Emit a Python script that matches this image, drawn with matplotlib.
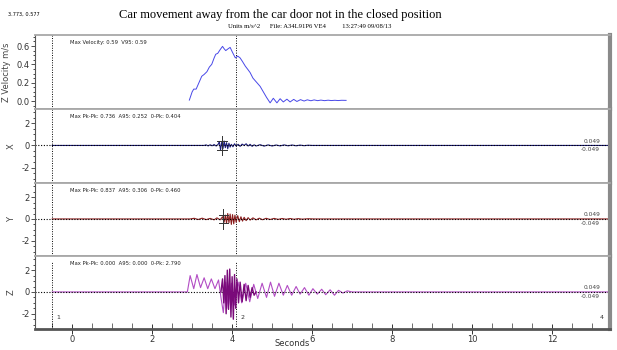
import matplotlib.pyplot as plt
import numpy as np
from matplotlib.ticker import MultipleLocator

# velocity trace (s, m/s)
vel_trace = [(2.93, 0.01), (3.00, 0.10), (3.04, 0.13), (3.10, 0.13), (3.17, 0.20),
             (3.24, 0.27), (3.30, 0.29), (3.37, 0.32), (3.43, 0.37), (3.49, 0.40),
             (3.55, 0.47), (3.59, 0.51), (3.64, 0.52), (3.70, 0.56), (3.76, 0.596),
             (3.80, 0.57), (3.84, 0.55), (3.90, 0.57), (3.95, 0.585), (4.01, 0.53),
             (4.08, 0.47), (4.14, 0.49), (4.20, 0.47), (4.26, 0.43), (4.33, 0.38),
             (4.40, 0.34), (4.45, 0.31), (4.52, 0.25), (4.60, 0.21), (4.70, 0.16),
             (4.78, 0.10), (4.86, 0.04), (4.95, -0.02), (5.03, 0.03), (5.12, -0.02),
             (5.20, 0.025), (5.28, -0.01), (5.37, 0.02), (5.45, -0.01), (5.54, 0.018),
             (5.62, -0.005), (5.71, 0.015), (5.80, 0.0), (5.88, 0.013), (5.97, 0.003),
             (6.05, 0.012), (6.14, 0.004), (6.22, 0.01), (6.31, 0.004), (6.40, 0.009),
             (6.48, 0.005), (6.57, 0.008), (6.65, 0.005), (6.74, 0.008), (6.85, 0.007)]

# X acceleration trace (s, m/s^2)
x_trace = [(-0.5, 0), (3.30, 0), (3.35, 0.05), (3.40, -0.04), (3.45, 0.06), (3.50, -0.03),
           (3.55, 0.08), (3.60, -0.05), (3.65, 0.10), (3.68, 0.35), (3.71, -0.40),
           (3.74, 0.30), (3.77, -0.30), (3.80, 0.40), (3.83, -0.20), (3.86, 0.25),
           (3.89, -0.30), (3.92, 0.20), (3.95, -0.15), (3.98, 0.10), (4.02, -0.12),
           (4.06, 0.15), (4.10, -0.05), (4.15, 0.10), (4.20, -0.08), (4.25, 0.12),
           (4.30, 0.0), (4.35, 0.15), (4.40, -0.05), (4.45, 0.10), (4.50, -0.08),
           (4.55, 0.06), (4.60, -0.05), (4.70, 0.07), (4.80, -0.06), (4.90, 0.05),
           (5.00, -0.05), (5.10, 0.04), (5.20, -0.04), (5.30, 0.05), (5.40, -0.03),
           (5.50, 0.04), (5.60, -0.03), (5.70, 0.03), (5.80, -0.02), (5.90, 0.02),
           (6.00, 0.0), (13.4, 0.0)]

# Y acceleration trace
y_trace = [(-0.5, 0), (2.95, 0), (3.05, 0.06), (3.15, -0.05), (3.25, 0.07), (3.35, -0.06),
           (3.45, 0.05), (3.55, -0.08), (3.62, 0.10), (3.70, -0.08), (3.76, 0.20),
           (3.80, -0.30), (3.83, 0.35), (3.86, -0.40), (3.89, 0.50), (3.92, -0.35),
           (3.95, 0.45), (3.98, -0.50), (4.01, 0.40), (4.04, -0.45), (4.07, 0.35),
           (4.10, -0.30), (4.14, 0.30), (4.18, -0.25), (4.22, 0.20), (4.26, -0.20),
           (4.30, 0.15), (4.35, -0.15), (4.40, 0.12), (4.45, -0.10), (4.52, 0.10),
           (4.60, -0.08), (4.68, 0.07), (4.76, -0.07), (4.85, 0.06), (4.95, -0.05),
           (5.05, 0.05), (5.15, -0.04), (5.25, 0.04), (5.35, -0.03), (5.45, 0.04),
           (5.55, -0.03), (5.65, 0.03), (5.75, -0.02), (5.90, 0.02), (6.05, 0.0),
           (13.4, 0.0)]

# Z acceleration, light trace
z_trace = [(-0.5, 0), (2.88, 0), (2.95, 1.5), (3.04, 0.3), (3.12, 1.6), (3.21, 0.4),
           (3.30, 1.3), (3.39, 0.3), (3.48, 1.2), (3.57, 0.3), (3.66, 1.1), (3.72, -0.5),
           (3.78, -1.9), (3.84, 0.9), (3.90, -1.5), (3.98, 0.8), (4.06, -1.2), (4.15, 0.9),
           (4.24, -1.0), (4.34, 0.8), (4.44, -0.9), (4.54, 0.7), (4.64, -0.6), (4.75, 0.8),
           (4.86, -0.5), (4.96, 0.9), (5.06, -0.4), (5.17, 0.8), (5.28, -0.3), (5.38, 0.6),
           (5.49, -0.3), (5.60, 0.5), (5.70, -0.2), (5.81, 0.4), (5.92, -0.3), (6.02, 0.3),
           (6.13, -0.2), (6.24, 0.25), (6.34, -0.25), (6.45, 0.2), (6.56, -0.3), (6.66, 0.15),
           (6.77, -0.1), (6.88, 0.1), (7.00, 0.0), (13.4, 0.0)]

# Z acceleration, dark burst
z_burst = [(3.72, 0.0), (3.76, 1.2), (3.79, -1.0), (3.82, 1.5), (3.85, -2.0), (3.88, 2.0),
           (3.91, -1.6), (3.94, 2.1), (3.97, -2.3), (4.00, 1.4), (4.03, -2.5), (4.06, 1.6),
           (4.09, -1.5), (4.12, 1.2), (4.16, -1.0), (4.20, 0.9), (4.25, -0.9), (4.30, 0.7),
           (4.35, -0.8), (4.40, 0.6), (4.45, -0.5), (4.50, 0.4), (4.55, -0.3), (4.60, 0.0)]

cursor_lines = [-0.5, 4.1]
cursor_labels = ['1', '2']
cross_x = (3.75, 0.85, 0.4)   # time, half height, tick level
cross_y = (3.78, 0.9, 0.35)

title = 'Car movement away from the car door not in the closed position'
subtitle = 'Units m/s^2      File: A34L91P6 VE4          13:27:49 09/08/13'
stats = ['Max Velocity: 0.59  V95: 0.59',
         'Max Pk-Pk: 0.736  A95: 0.252  0-Pk: 0.404',
         'Max Pk-Pk: 0.837  A95: 0.306  0-Pk: 0.460',
         'Max Pk-Pk: 0.000  A95: 0.000  0-Pk: 2.790']
ylabels = ['Z Velocity m/s', 'X', 'Y', 'Z']

fig = plt.figure(figsize=(6.17, 3.5), dpi=100)
left, width = 35 / 617, 575 / 617
tops = [35, 109, 183, 256, 329]
axes = []
for i in range(4):
    b = 1 - tops[i + 1] / 350
    h = (tops[i + 1] - tops[i]) / 350
    axes.append(fig.add_axes([left, b, width, h]))

xlim = (-0.93, 13.45)
for i, ax in enumerate(axes):
    ax.set_xlim(*xlim)
    for s in ['top', 'bottom']:
        ax.spines[s].set_color('#a8a8a8')
        ax.spines[s].set_linewidth(1.3)
    ax.spines['left'].set_color('#555555')
    ax.spines['left'].set_linewidth(0.8)
    ax.spines['right'].set_color('#8a8a8a')
    ax.spines['right'].set_linewidth(3)
    ax.tick_params(axis='y', labelsize=6, direction='out', length=3, width=0.6,
                   colors='#333333', pad=1)
    ax.tick_params(axis='y', which='minor', direction='out', length=1.5, width=0.5)
    ax.set_ylabel(ylabels[i], fontsize=6, color='#444444', labelpad=4)
    ax.text(0.06, 0.93, stats[i], transform=ax.transAxes, fontsize=3.8,
            va='top', ha='left', color='#222222')
    for c in cursor_lines:
        ax.axvline(c, color='black', lw=0.7, ls=(0, (1, 1.5)),
                   ymax=0.92 if i == 3 else 1)
    if i < 3:
        ax.tick_params(axis='x', bottom=False, labelbottom=False)

# velocity panel
va = axes[0]
t, v = np.array(vel_trace).T
va.plot(t, v, color='#4848e8', lw=0.7)
va.set_ylim(-0.087, 0.72)
va.yaxis.set_major_locator(MultipleLocator(0.2))
va.yaxis.set_minor_locator(MultipleLocator(0.05))
va.yaxis.set_major_formatter(lambda y, p: f'{y:.1f}')

accel = [(axes[1], x_trace, '#1c1c7a', cross_x),
         (axes[2], y_trace, '#8b1e1e', cross_y),
         (axes[3], z_trace, '#b24cc4', None)]
for ax, trace, col, cross in accel:
    t, v = np.array(trace).T
    ax.plot(t, v, color=col, lw=0.8)
    ax.axhline(0, color='black', lw=0.8, ls=(0, (1, 1.5)))
    ax.set_ylim(-3.4, 3.3)
    ax.yaxis.set_major_locator(MultipleLocator(2))
    ax.yaxis.set_minor_locator(MultipleLocator(0.5))
    ax.yaxis.set_major_formatter(lambda y, p: f'{y:.0f}')
    ax.text(13.2, 0.15, '0.049', fontsize=4.2, ha='right', va='bottom', color='#444444')
    ax.text(13.2, -0.15, '-0.049', fontsize=4.2, ha='right', va='top', color='#444444')
    if cross is not None:
        ct, hh, tk = cross
        ax.plot([ct, ct], [-hh, hh], color='#333333', lw=0.7)
        ax.plot([ct - 0.12, ct + 0.12], [tk, tk], color='#333333', lw=0.7)
        ax.plot([ct - 0.12, ct + 0.12], [-tk, -tk], color='#333333', lw=0.7)

za = axes[3]
t, v = np.array(z_burst).T
za.plot(t, v, color='#7a0a7a', lw=1.0)
for c, lab in zip(cursor_lines, cursor_labels):
    za.text(c + 0.1, -2.3, lab, fontsize=4.5, color='#333333', va='center')
za.text(13.3, -2.3, '4', fontsize=4.5, color='#333333', ha='right', va='center')

za.spines['bottom'].set_color('#555555')
za.spines['bottom'].set_linewidth(2)
za.xaxis.set_major_locator(MultipleLocator(2))
za.xaxis.set_minor_locator(MultipleLocator(0.5))
za.tick_params(axis='x', which='major', direction='inout', length=7, width=0.7,
               labelsize=6, colors='#333333', pad=0.5)
za.tick_params(axis='x', which='minor', direction='in', length=4, width=0.6,
               colors='#555555')
za.set_xlabel('Seconds', fontsize=6, color='#333333', va='center')
za.xaxis.set_label_coords((292 - 35) / 575, -(344 - 329) / 73)

fig.text(280 / 617, 1 - 15 / 350, title, fontsize=9.0, family='Liberation Serif',
         ha='center', va='center')
fig.text(310 / 617, 1 - 27 / 350, subtitle, fontsize=4.8, family='Liberation Serif',
         ha='center', va='center')
fig.text(8 / 617, 1 - 14 / 350, '3.773, 0.577', fontsize=3.6, ha='left', va='center')

fig.savefig('out.png', dpi=100)
